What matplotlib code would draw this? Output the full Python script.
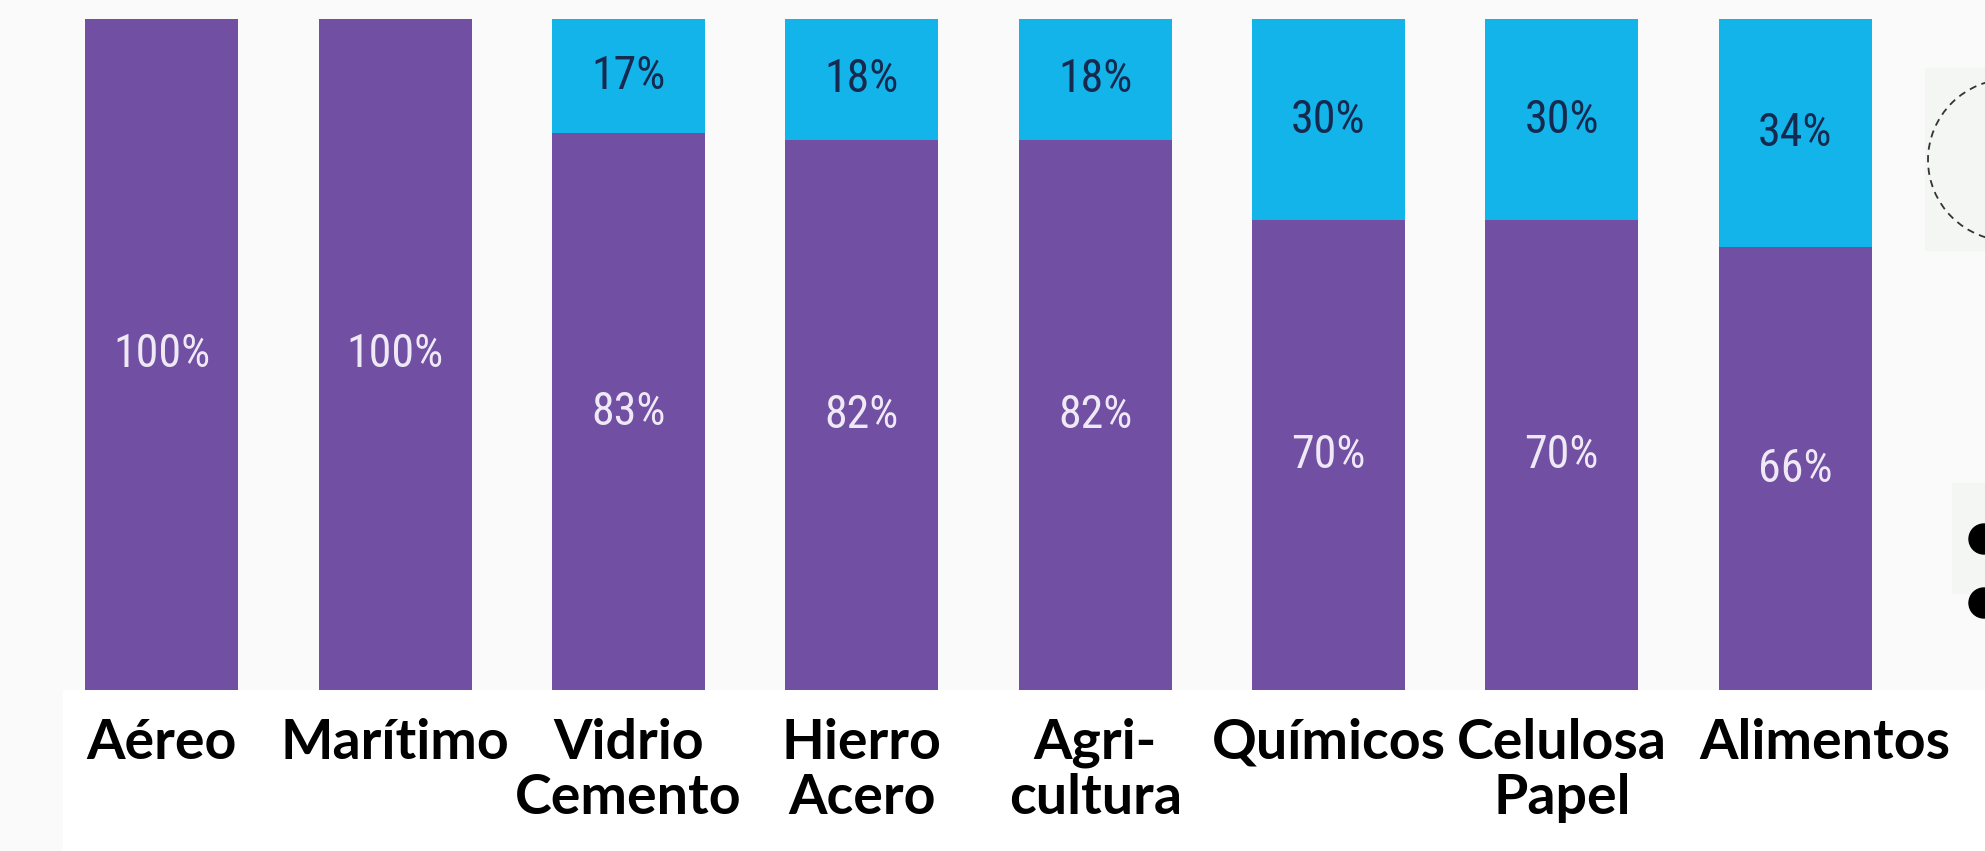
import matplotlib.pyplot as plt
from matplotlib.patches import Ellipse, Rectangle
from matplotlib.transforms import ScaledTranslation

categories = ['Aéreo', 'Marítimo', 'Vidrio\nCemento', 'Hierro\nAcero',
              'Agri-\ncultura', 'Químicos', 'Celulosa\nPapel', 'Alimentos']
purple_vals = [100, 100, 83, 82, 82, 70, 70, 66]
blue_vals = [0, 0, 17, 18, 18, 30, 30, 34]

PURPLE = '#714fa3'
BLUE = '#12b4ea'

W, H = 1985, 851
fig = plt.figure(figsize=(W / 100, H / 100), dpi=100)
fig.patch.set_facecolor('#f9faf9')

# white strip under the bars where the labels sit
fig.patches.append(Rectangle((63 / W, 0), 1, (H - 690) / H,
                             transform=fig.transFigure, color='white', zorder=-5))

# bar area: centres at 162 + 233.3*i px, bars from y=19 to y=690 px
left_px, right_px = 162 - 116.7, 1795 + 116.7
ax = fig.add_axes([left_px / W, (H - 690) / H, (right_px - left_px) / W, 671 / H])
ax.set_facecolor('none')

x = range(len(categories))
ax.bar(x, purple_vals, width=0.656, color=PURPLE)
ax.bar(x, blue_vals, bottom=purple_vals, width=0.656, color=BLUE)

pct_font = ['Liberation Sans Narrow', 'Roboto Condensed', 'Roboto']
for i, (p, b) in enumerate(zip(purple_vals, blue_vals)):
    ax.text(i, p / 2, f'{p}%', ha='center', va='center', fontsize=33,
            color='#efe8f5', family=pct_font)
    if b:
        ax.text(i, p + b / 2, f'{b}%', ha='center', va='center', fontsize=33,
                color='#16294f', family=pct_font)

ax.set_xlim(-0.5, len(categories) - 0.5)
ax.set_ylim(0, 100)
ax.set_xticks(list(x))
ax.set_xticklabels(categories, fontsize=40, fontweight='bold', family=['Lato', 'DejaVu Sans'],
                   linespacing=1.12, color='black')
ax.tick_params(axis='x', length=0, pad=20)
ax.set_yticks([])
for s in ax.spines.values():
    s.set_visible(False)

# last label sits a bit to the right in the original slide
last = ax.get_xticklabels()[-1]
last.set_transform(last.get_transform() + ScaledTranslation(0.3, 0, fig.dpi_scale_trans))

# pieces of the next slide element cut off at the right edge
fig.patches.append(Rectangle((1925 / W, (H - 250) / H), 60 / W, 182 / H,
                             transform=fig.transFigure, color='#f4f6f4', zorder=1))
fig.patches.append(Ellipse((2010 / W, (H - 160) / H), 164 / W, 162 / H,
                           transform=fig.transFigure, fill=False, ec='#333333',
                           lw=1.3, ls=(0, (4, 3)), zorder=2))
fig.patches.append(Rectangle((1952 / W, (H - 593) / H), 33 / W, 110 / H,
                             transform=fig.transFigure, color='#f4f6f4', zorder=1))
for yb in (539, 603):
    fig.patches.append(Ellipse((1984 / W, (H - yb) / H), 30 / W, 30 / H,
                               transform=fig.transFigure, color='black', zorder=2))

fig.savefig('out.png', dpi=100)
